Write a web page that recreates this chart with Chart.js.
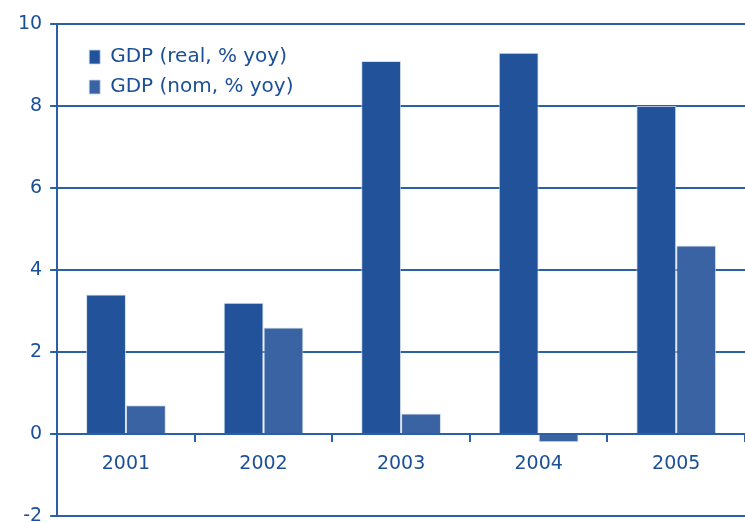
<!DOCTYPE html>
<html>
<head>
<meta charset="utf-8">
<script src="https://cdn.jsdelivr.net/npm/chart.js@4"></script>
<style>
  html, body { margin: 0; padding: 0; background: #fff; }
  #wrap { width: 745px; height: 522px; }
</style>
</head>
<body>
<div id="wrap"><canvas id="gdpChart"></canvas></div>
<script>
const years = ["2001", "2002", "2003", "2004", "2005"];
const gdpReal = [3.4, 3.2, 9.1, 9.3, 8.0];
const gdpNom = [0.7, 2.6, 0.5, -0.2, 4.6];
const seriesNames = ["GDP (real, % yoy)", "GDP (nom, % yoy)"];

const blue = "#2a60a6";
const textBlue = "#1b4f97";

// nudge legend to sit where the original had it
const legendShift = {
  id: "legendShift",
  afterLayout: function (chart) {
    if (chart.legend) {
      chart.legend.left += 22;
      chart.legend.top += 37;
    }
  },
};

new Chart(document.getElementById("gdpChart"), {
  type: "bar",
  data: {
    labels: years,
    datasets: [
      {
        label: seriesNames[0],
        data: gdpReal,
        backgroundColor: "#22539a",
        borderColor: "rgba(200,215,235,0.8)",
        borderWidth: 1,
      },
      {
        label: seriesNames[1],
        data: gdpNom,
        backgroundColor: "#3a63a3",
        borderColor: "rgba(200,215,235,0.8)",
        borderWidth: 1,
      },
    ],
  },
  options: {
    responsive: true,
    maintainAspectRatio: false,
    animation: false,
    layout: { padding: { top: 24, right: 0, bottom: 6, left: 10 } },
    datasets: {
      bar: { categoryPercentage: 0.58, barPercentage: 1.0 },
    },
    plugins: {
      legend: {
        position: "chartArea",
        align: "start",
        labels: {
          boxWidth: 11,
          boxHeight: 14,
          padding: 10,
          color: textBlue,
          font: { family: "DejaVu Sans", size: 20 },
        },
      },
      tooltip: { enabled: false },
    },
    scales: {
      x: {
        position: { y: 0 },
        grid: {
          offset: true,
          drawOnChartArea: false,
          color: blue,
          lineWidth: 2,
          tickLength: 7,
        },
        border: { color: blue, width: 2 },
        ticks: {
          color: textBlue,
          padding: 12,
          font: { family: "DejaVu Sans", size: 19 },
        },
      },
      y: {
        min: -2,
        max: 10,
        afterFit: function (scale) {
          scale.paddingTop = 0;
          scale.paddingBottom = 0;
        },
        ticks: {
          stepSize: 2,
          color: textBlue,
          padding: 8,
          font: { family: "DejaVu Sans", size: 19 },
        },
        grid: { color: blue, lineWidth: 2, tickLength: 7 },
        border: { color: blue, width: 2 },
      },
    },
  },
  plugins: [legendShift],
});
</script>
</body>
</html>
